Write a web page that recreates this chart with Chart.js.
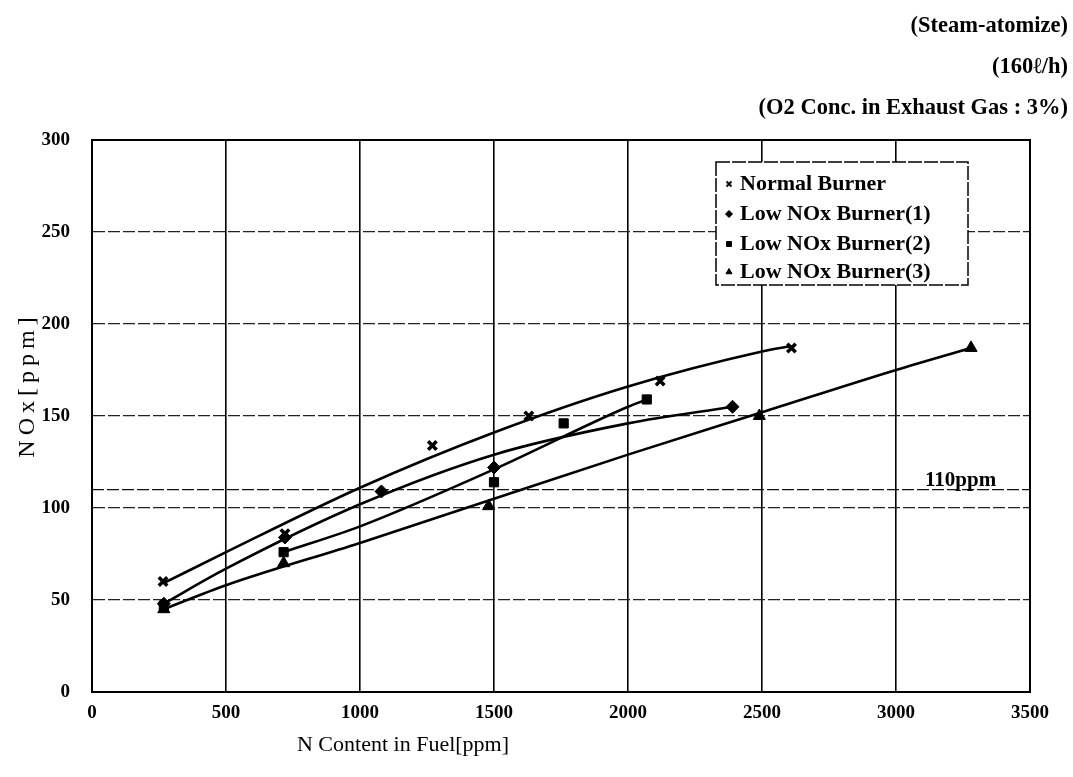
<!DOCTYPE html>
<html>
<head>
<meta charset="utf-8">
<script src="https://cdn.jsdelivr.net/npm/chart.js@4/dist/chart.umd.min.js"></script>
<style>
  html, body { margin: 0; padding: 0; background: #fff; }
  #wrap { width: 1073px; height: 777px; position: relative; }
</style>
</head>
<body>
<div id="wrap"><canvas id="c" width="1073" height="777"></canvas></div>
<script>
// ---- data ----
const xTicks = [0, 500, 1000, 1500, 2000, 2500, 3000, 3500];
const yTicks = [0, 50, 100, 150, 200, 250, 300];
const seriesNames = ['Normal Burner', 'Low NOx Burner(1)', 'Low NOx Burner(2)', 'Low NOx Burner(3)'];
const headerLines = ['(Steam-atomize)', '(160ℓ/h)', '(O2 Conc. in Exhaust Gas : 3%)'];
const xTitle = 'N Content in Fuel[ppm]';
const yTitle = 'NOx[ppm]';

// measured points
const normalX = [265, 720, 1270, 1630, 2120, 2610];
const normalY = [60, 86, 134, 150, 169, 187];
const low1X = [268, 720, 1080, 1500, 2390];
const low1Y = [48, 84, 109, 122, 155];
const low2X = [268, 715, 1500, 1760, 2070];
const low2Y = [47, 76, 114, 146, 159];
const low3X = [268, 715, 1480, 2490, 3280];
const low3Y = [45, 70, 101, 150, 187];

// fitted trend curves
const normalFitX = [265, 500, 1000, 1500, 2000, 2500, 2610];
const normalFitY = [59, 76, 111, 141, 166, 185, 188];
const low1FitX = [268, 500, 1000, 1500, 2000, 2390];
const low1FitY = [48, 67, 102, 129, 146, 155];
const low2FitX = [715, 1000, 1500, 2000, 2070];
const low2FitY = [76, 90, 121, 155, 159];
const low3FitX = [268, 500, 1000, 1500, 2000, 2500, 3000, 3280];
const low3FitY = [45, 58, 81, 105, 129, 152, 175, 187];

// regulation level
const limitLevel = 110;
const limitLabel = '110ppm';

// ---- helpers ----
const pts = (xs, ys) => xs.map((v, i) => ({ x: v, y: ys[i] }));

const markerStyles = [
  { pointStyle: 'crossRot', radius: 6, borderWidth: 3.5 },
  { pointStyle: 'rectRot', radius: 6.5, borderWidth: 1 },
  { pointStyle: 'rect', radius: 6.5, borderWidth: 1 },
  { pointStyle: 'triangle', radius: 7, borderWidth: 1 }
];

const markerSets = [
  pts(normalX, normalY), pts(low1X, low1Y), pts(low2X, low2Y), pts(low3X, low3Y)
].map((d, i) => ({
  label: seriesNames[i],
  data: d,
  showLine: false,
  pointStyle: markerStyles[i].pointStyle,
  pointRadius: markerStyles[i].radius,
  pointBorderWidth: markerStyles[i].borderWidth,
  backgroundColor: '#000',
  borderColor: '#000'
}));

const fitSets = [
  pts(normalFitX, normalFitY), pts(low1FitX, low1FitY),
  pts(low2FitX, low2FitY), pts(low3FitX, low3FitY)
].map((d, i) => ({
  label: seriesNames[i] + ' fit',
  data: d,
  showLine: true,
  pointRadius: 0,
  borderColor: '#000',
  borderWidth: 2.6,
  cubicInterpolationMode: 'monotone',
  fill: false
}));

const limitSet = {
  label: limitLabel,
  data: [{ x: xTicks[0], y: limitLevel }, { x: xTicks[xTicks.length - 1], y: limitLevel }],
  showLine: true,
  pointRadius: 0,
  borderColor: '#111',
  borderWidth: 1.4,
  borderDash: [12, 3]
};

const tickFont = { family: '"Liberation Serif", serif', weight: 'bold', size: 19 };

// frame, header notes, axis titles, limit label and the boxed legend
const notesPlugin = {
  id: 'notes',
  afterDraw(chart) {
    const { ctx, chartArea: a, scales: { y } } = chart;
    ctx.save();
    ctx.fillStyle = '#000';
    ctx.strokeStyle = '#000';

    // plot frame
    ctx.lineWidth = 2;
    ctx.strokeRect(a.left, a.top, a.right - a.left, a.bottom - a.top);

    // header notes
    ctx.font = 'bold 22.5px "Liberation Serif", serif';
    ctx.textAlign = 'right';
    ctx.textBaseline = 'middle';
    headerLines.forEach((t, i) => ctx.fillText(t, 1068, 26 + i * 41));

    // limit label
    ctx.textAlign = 'left';
    ctx.textBaseline = 'alphabetic';
    ctx.font = 'bold 21px "Liberation Serif", serif';
    ctx.fillText(limitLabel, 925, y.getPixelForValue(limitLevel) - 4);

    // x axis title
    ctx.font = '22px "Liberation Serif", serif';
    ctx.textAlign = 'center';
    ctx.textBaseline = 'middle';
    ctx.fillText(xTitle, 403, 745);

    // y axis title
    ctx.save();
    ctx.translate(28, 385);
    ctx.rotate(-Math.PI / 2);
    ctx.font = '24px "Liberation Serif", serif';
    ctx.letterSpacing = '5px';
    ctx.fillText(yTitle, 0, 0);
    ctx.restore();

    // legend box
    const bx = 716, by = 162, bw = 252, bh = 123;
    ctx.fillStyle = '#fff';
    ctx.fillRect(bx, by, bw, bh);
    ctx.lineWidth = 1.5;
    ctx.setLineDash([14, 2]);
    ctx.strokeRect(bx, by, bw, bh);
    ctx.setLineDash([]);
    ctx.fillStyle = '#000';
    ctx.font = 'bold 22px "Liberation Serif", serif';
    ctx.textAlign = 'left';
    ctx.textBaseline = 'middle';
    const rows = [184, 214, 244, 272];
    markerStyles.forEach((m, i) => {
      ctx.lineWidth = m.pointStyle === 'crossRot' ? 2 : 1;
      Chart.helpers.drawPoint(ctx, {
        pointStyle: m.pointStyle,
        radius: 3.5,
        rotation: 0,
        borderWidth: ctx.lineWidth
      }, 729, rows[i]);
      ctx.fillText(seriesNames[i], 740, rows[i]);
    });
    ctx.restore();
  }
};

new Chart(document.getElementById('c'), {
  type: 'scatter',
  data: { datasets: [...markerSets, ...fitSets, limitSet] },
  options: {
    responsive: false,
    animation: false,
    devicePixelRatio: 1,
    layout: { padding: { top: 140, right: 43, left: 0, bottom: 0 } },
    plugins: { legend: { display: false }, tooltip: { enabled: false }, title: { display: false } },
    scales: {
      x: {
        type: 'linear',
        min: xTicks[0],
        max: xTicks[xTicks.length - 1],
        afterFit(s) { s.height = 85; },
        afterBuildTicks(s) { s.ticks = xTicks.map(v => ({ value: v })); },
        ticks: { color: '#000', font: tickFont, padding: 10, maxRotation: 0, callback: v => String(v) },
        grid: { color: '#000', lineWidth: 1.6, drawTicks: false },
        border: { display: true, color: '#000', width: 2 }
      },
      y: {
        type: 'linear',
        min: yTicks[0],
        max: yTicks[yTicks.length - 1],
        afterFit(s) { s.width = 92; },
        afterBuildTicks(s) { s.ticks = yTicks.map(v => ({ value: v })); },
        ticks: { color: '#000', font: tickFont, padding: 22, callback: v => String(v) },
        grid: { color: '#222', lineWidth: 1.3, drawTicks: false },
        border: { display: true, color: '#000', width: 2, dash: [12, 3] }
      }
    }
  },
  plugins: [notesPlugin]
});
</script>
</body>
</html>
